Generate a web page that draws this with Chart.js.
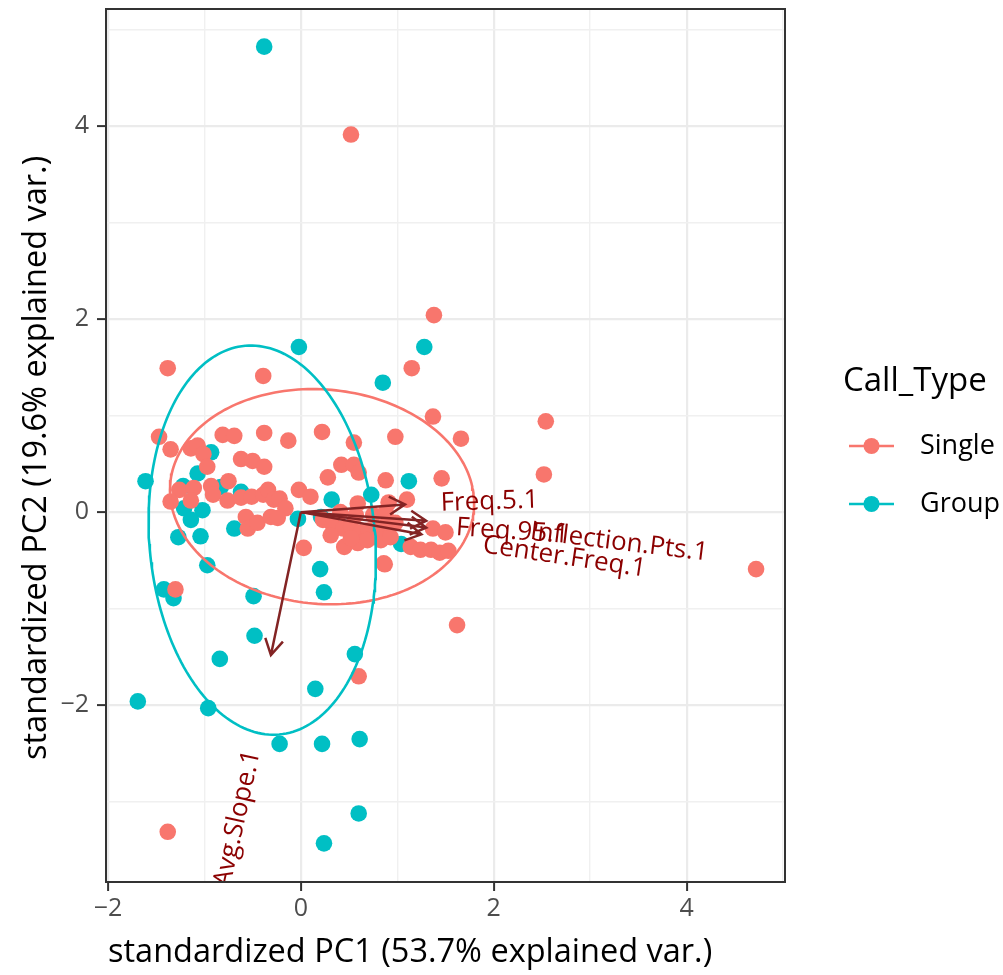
<!DOCTYPE html>
<html>
<head>
<meta charset="utf-8">
<title>PCA biplot – Call_Type</title>
<script src="https://cdn.jsdelivr.net/npm/chart.js@4.4.1/dist/chart.umd.min.js"></script>
<style>
  html, body { margin: 0; padding: 0; background: #ffffff; }
  canvas { display: block; }
</style>
</head>
<body>
<canvas id="biplot" width="1003" height="975"></canvas>
<script>
// Standardized PC scores, one pair of arrays per call type
const singlePC1 = [
  0.52, 1.38, -1.38, 1.15, -0.39, 1.37, 2.54, 1.66, 2.52, 0.98,
  4.72, 1.62, 0.60, -1.38, -1.30, 0.87, -1.47, -1.35, -1.14, -1.07,
  -1.01, -0.81, -0.69, -0.38, -0.13, 0.22, 0.55, -0.62, -0.50, -0.38,
  -0.97, -0.75, 0.42, 0.55, 0.60, 0.28, 0.88, 1.46, -1.26, -1.11,
  -0.93, -0.91, -1.35, -1.14, -0.76, -0.62, -0.51, -0.39, -0.34, -0.28,
  -0.22, -0.16, -0.02, 0.10, 0.59, 0.91, 1.10, -0.57, -0.55, -0.45,
  -0.31, -0.24, 0.23, 0.33, 0.44, 0.52, 0.62, 0.70, 0.81, 0.90,
  0.98, 0.83, 0.93, 0.45, 0.59, 0.69, 0.41, 0.57, 0.75, 0.88,
  0.31, 0.52, 1.37, 1.50, 1.14, 1.24, 1.35, 1.44, 1.53, 0.03,
  0.86
];
const singlePC2 = [
  3.91, 2.04, 1.49, 1.49, 1.41, 0.99, 0.94, 0.76, 0.39, 0.78,
  -0.59, -1.17, -1.70, -3.31, -0.80, -0.54, 0.78, 0.65, 0.66, 0.69,
  0.60, 0.80, 0.79, 0.82, 0.74, 0.83, 0.72, 0.55, 0.53, 0.47,
  0.47, 0.32, 0.49, 0.49, 0.41, 0.36, 0.33, 0.35, 0.23, 0.25,
  0.27, 0.18, 0.11, 0.12, 0.12, 0.15, 0.16, 0.18, 0.23, 0.13,
  0.14, 0.04, 0.23, 0.16, 0.09, 0.10, 0.13, -0.05, -0.17, -0.11,
  -0.05, -0.06, -0.08, -0.13, -0.17, -0.15, -0.21, -0.19, -0.17, -0.11,
  -0.11, -0.29, -0.26, -0.36, -0.32, -0.29, 0.00, -0.03, -0.03, 0.00,
  -0.24, -0.27, -0.17, -0.21, -0.36, -0.39, -0.39, -0.42, -0.40, -0.37,
  -0.53
];
const groupPC1 = [
  -0.38, -0.02, 1.28, 0.85, -1.61, 1.12, 0.73, 0.32, -0.93, -1.07,
  -1.22, -0.83, -0.62, -1.21, -1.02, -1.14, -1.27, -1.04, -0.69, -0.03,
  0.21, 1.04, -0.97, -1.42, -1.32, -0.49, 0.20, 0.24, -0.48, -0.84,
  0.56, 0.15, -1.69, -0.96, -0.22, 0.22, 0.61, 0.60, 0.24
];
const groupPC2 = [
  4.82, 1.71, 1.71, 1.34, 0.32, 0.32, 0.18, 0.13, 0.62, 0.40,
  0.27, 0.26, 0.21, 0.04, 0.02, -0.08, -0.26, -0.25, -0.17, -0.07,
  -0.05, -0.33, -0.55, -0.80, -0.89, -0.87, -0.59, -0.83, -1.28, -1.52,
  -1.47, -1.83, -1.96, -2.03, -2.40, -2.40, -2.35, -3.12, -3.43
];

// Variable loadings (arrow tips) and where their names sit
const loadingNames = ['Freq.5.1', 'Freq.95.1', 'Inflection.Pts.1', 'Center.Freq.1', 'Avg.Slope.1'];
const loadingPC1 = [1.08, 1.30, 1.30, 1.25, -0.31];
const loadingPC2 = [0.08, -0.09, -0.16, -0.23, -1.48];
const loadingLabelPC1 = [1.45, 1.61, 2.38, 1.89, -0.50];
const loadingLabelPC2 = [0.09, -0.16, -0.20, -0.34, -2.47];
const loadingLabelAngle = [2, -4, -7, -8.5, 77.5];
const loadingLabelAlign = ['left', 'left', 'left', 'left', 'right'];

// 68% normal concentration ellipses per call type
const callTypes = ['Single', 'Group'];
const callColours = ['#F8766D', '#00BFC4'];
const ellipseCentrePC1 = [0.22, -0.40];
const ellipseCentrePC2 = [0.16, -0.29];
const ellipseMajor = [1.58, 2.02];
const ellipseMinor = [1.11, 1.17];
const ellipseTilt = [-5, 95];

// Axis ticks
const xTickValues = [-2, 0, 2, 4];
const xTickLabels = ['\u22122', '0', '2', '4'];
const yTickValues = [-2, 0, 2, 4];
const yTickLabels = ['\u22122', '0', '2', '4'];

const FONT = '"Open Sans", "DejaVu Sans", sans-serif';

function pairs(xs, ys) {
  return xs.map((v, i) => ({ x: v, y: ys[i] }));
}

function ellipseOutline(i) {
  const pts = [];
  const t = ellipseTilt[i] * Math.PI / 180;
  const steps = 200;
  for (let k = 0; k <= steps; k++) {
    const a = 2 * Math.PI * k / steps;
    const u = ellipseMajor[i] * Math.cos(a);
    const v = ellipseMinor[i] * Math.sin(a);
    pts.push({
      x: ellipseCentrePC1[i] + u * Math.cos(t) - v * Math.sin(t),
      y: ellipseCentrePC2[i] + u * Math.sin(t) + v * Math.cos(t)
    });
  }
  return pts;
}

function gridStyle() {
  return {
    color: (c) => (c.tick && c.tick.value % 2 === 0) ? '#EBEBEB' : '#F0F0F0',
    lineWidth: (c) => (c.tick && c.tick.value % 2 === 0) ? 2.2 : 1.4,
    tickColor: (c) => (c.tick && c.tick.value % 2 === 0) ? '#333333' : 'rgba(0,0,0,0)',
    tickLength: 9,
    tickWidth: 2,
    drawTicks: true
  };
}

// Loading arrows, their names, the panel frame, axis titles and the legend
const biplotOverlay = {
  id: 'biplotOverlay',
  afterDatasetsDraw(chart) {
    const { ctx, chartArea, scales: { x, y } } = chart;
    ctx.save();
    ctx.beginPath();
    ctx.rect(chartArea.left, chartArea.top, chartArea.width, chartArea.height);
    ctx.clip();

    const x0 = x.getPixelForValue(0);
    const y0 = y.getPixelForValue(0);
    ctx.strokeStyle = '#832424';
    ctx.lineWidth = 2.5;
    ctx.lineJoin = 'miter';
    loadingNames.forEach((name, i) => {
      const x1 = x.getPixelForValue(loadingPC1[i]);
      const y1 = y.getPixelForValue(loadingPC2[i]);
      const ang = Math.atan2(y1 - y0, x1 - x0);
      const head = 18, spread = Math.PI / 6;
      ctx.beginPath();
      ctx.moveTo(x0, y0);
      ctx.lineTo(x1, y1);
      ctx.moveTo(x1 - head * Math.cos(ang - spread), y1 - head * Math.sin(ang - spread));
      ctx.lineTo(x1, y1);
      ctx.lineTo(x1 - head * Math.cos(ang + spread), y1 - head * Math.sin(ang + spread));
      ctx.stroke();
    });

    ctx.fillStyle = '#8B0000';
    ctx.font = '26px ' + FONT;
    ctx.textBaseline = 'middle';
    loadingNames.forEach((name, i) => {
      const lx = x.getPixelForValue(loadingLabelPC1[i]);
      const ly = y.getPixelForValue(loadingLabelPC2[i]);
      ctx.save();
      ctx.translate(lx, ly);
      ctx.rotate(-loadingLabelAngle[i] * Math.PI / 180);
      ctx.textAlign = loadingLabelAlign[i];
      ctx.fillText(name, 0, 0);
      ctx.restore();
    });
    ctx.restore();
  },
  afterDraw(chart) {
    const { ctx, chartArea } = chart;
    ctx.save();
    // panel frame
    ctx.strokeStyle = '#333333';
    ctx.lineWidth = 2;
    ctx.strokeRect(chartArea.left, chartArea.top, chartArea.width, chartArea.height);

    // axis titles
    ctx.fillStyle = '#000000';
    ctx.font = '32.5px ' + FONT;
    ctx.textAlign = 'left';
    ctx.textBaseline = 'alphabetic';
    ctx.fillText('standardized PC1 (53.7% explained var.)', 108, 962);
    ctx.save();
    ctx.translate(46, 760);
    ctx.rotate(-Math.PI / 2);
    ctx.fillText('standardized PC2 (19.6% explained var.)', 0, 0);
    ctx.restore();

    // legend
    ctx.textBaseline = 'middle';
    ctx.font = '33px ' + FONT;
    ctx.fillText('Call_Type', 843, 382);
    ctx.font = '27px ' + FONT;
    const rows = [446, 504];
    callTypes.forEach((name, i) => {
      const yy = rows[i];
      ctx.strokeStyle = callColours[i];
      ctx.lineWidth = 2.6;
      ctx.beginPath();
      ctx.moveTo(849, yy);
      ctx.lineTo(894, yy);
      ctx.stroke();
      ctx.fillStyle = callColours[i];
      ctx.beginPath();
      ctx.arc(871.5, yy, 8, 0, Math.PI * 2);
      ctx.fill();
      ctx.fillStyle = '#000000';
      ctx.fillText(name, 920, yy);
    });
    ctx.restore();
  }
};

new Chart(document.getElementById('biplot'), {
  type: 'scatter',
  data: {
    datasets: [
      {
        label: 'Single ellipse', type: 'line', data: ellipseOutline(0),
        borderColor: callColours[0], borderWidth: 2.6, pointRadius: 0,
        fill: false, tension: 0, order: 2
      },
      {
        label: 'Group ellipse', type: 'line', data: ellipseOutline(1),
        borderColor: callColours[1], borderWidth: 2.6, pointRadius: 0,
        fill: false, tension: 0, order: 1
      },
      {
        label: 'Single', data: pairs(singlePC1, singlePC2),
        backgroundColor: callColours[0], borderWidth: 0, pointRadius: 8.3, order: 3
      },
      {
        label: 'Group', data: pairs(groupPC1, groupPC2),
        backgroundColor: callColours[1], borderWidth: 0, pointRadius: 8.3, order: 4
      }
    ]
  },
  options: {
    responsive: false,
    animation: false,
    events: [],
    layout: { padding: { top: 9, right: 218, left: 0, bottom: 0 } },
    plugins: { legend: { display: false }, tooltip: { enabled: false } },
    scales: {
      x: {
        type: 'linear', min: -2.02, max: 5.02,
        afterFit: (s) => { s.height = 93; s.paddingLeft = 0; s.paddingRight = 0; },
        border: { display: false },
        grid: gridStyle(),
        ticks: {
          stepSize: 1, includeBounds: false, autoSkip: false, maxRotation: 0,
          color: '#4D4D4D', padding: 3,
          font: { family: FONT, size: 25 },
          callback: (v) => { const i = xTickValues.indexOf(v); return i >= 0 ? xTickLabels[i] : ''; }
        }
      },
      y: {
        type: 'linear', min: -3.83, max: 5.21,
        afterFit: (s) => { s.width = 106; s.paddingTop = 0; s.paddingBottom = 0; },
        border: { display: false },
        grid: gridStyle(),
        ticks: {
          stepSize: 1, includeBounds: false, autoSkip: false,
          color: '#4D4D4D', padding: 8,
          font: { family: FONT, size: 25 },
          callback: (v) => { const i = yTickValues.indexOf(v); return i >= 0 ? yTickLabels[i] : ''; }
        }
      }
    }
  },
  plugins: [biplotOverlay]
});
</script>
</body>
</html>
